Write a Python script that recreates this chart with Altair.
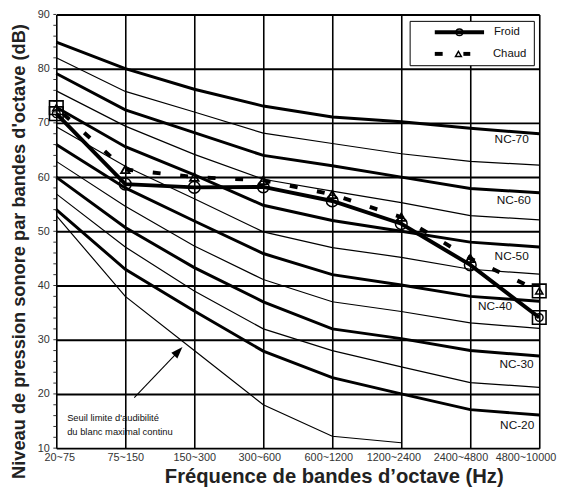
import altair as alt
import pandas as pd

# ---------------- data ----------------
bands = ["20~75", "75~150", "150~300", "300~600", "600~1200",
         "1200~2400", "2400~4800", "4800~10000"]

nc70 = [84.9, 80.0, 76.2, 73.1, 71.1, 70.2, 69.0, 68.0]
nc65 = [82.0, 75.8, 72.0, 68.1, 66.2, 64.3, 62.9, 62.2]
nc60 = [79.1, 72.4, 68.2, 64.0, 62.1, 60.0, 57.9, 57.1]
nc55 = [75.9, 69.4, 64.2, 59.6, 57.4, 55.3, 52.9, 52.1]
nc50 = [72.9, 65.6, 60.4, 54.8, 52.0, 50.0, 48.0, 47.1]
nc45 = [69.3, 62.0, 56.0, 49.9, 47.0, 45.2, 43.0, 42.1]
nc40 = [66.0, 58.0, 51.9, 45.9, 42.0, 40.1, 38.0, 37.1]
nc35 = [62.9, 54.6, 47.3, 41.1, 37.0, 35.2, 33.1, 32.1]
nc30 = [60.0, 50.7, 43.3, 37.0, 32.0, 30.2, 28.0, 27.0]
nc25 = [56.9, 47.1, 39.0, 32.0, 28.0, 25.0, 22.1, 21.2]
nc20 = [54.0, 43.0, 35.3, 27.9, 23.0, 20.0, 17.1, 16.1]
seuil = [52.9, 38.0, 28.0, 18.0, 12.2, 11.0]

froid = [71.7, 58.7, 58.1, 58.2, 55.6, 51.4, 43.8, 34.1]
chaud = [72.8, 61.4, 60.0, 59.4, 56.8, 52.6, 45.0, 39.0]

thick_curves = {"NC-70": nc70, "NC-60": nc60, "NC-50": nc50,
                "NC-40": nc40, "NC-30": nc30, "NC-20": nc20}
thin_curves = {"NC-65": nc65, "NC-55": nc55, "NC-45": nc45,
               "NC-35": nc35, "NC-25": nc25, "Seuil": seuil}

nc_labels = ["NC-70", "NC-60", "NC-50", "NC-40", "NC-30", "NC-20"]
nc_label_x = [6.60, 6.63, 6.60, 6.36, 6.67, 6.68]
nc_label_y = [67.0, 55.8, 45.5, 36.2, 25.5, 14.2]

note_lines = ["Seuil limite d'audibilité", "du blanc maximal continu"]
note_x = [0.157, 0.157]
note_y = [15.6, 12.9]

arrow_start = (1.13, 19.3)
arrow_head = (1.77, 27.87)

y_minor = list(range(10, 91, 2))

# ---------------- tables ----------------
def long(d):
    rows = []
    for name, vals in d.items():
        for i, v in enumerate(vals):
            rows.append({"curve": name, "i": i, "v": v})
    return pd.DataFrame(rows)

df_thick = long(thick_curves)
df_thin = long(thin_curves)
df_froid = pd.DataFrame({"i": range(len(froid)), "v": froid})
df_chaud = pd.DataFrame({"i": range(len(chaud)), "v": chaud})
df_lab = pd.DataFrame({"t": nc_labels, "i": nc_label_x, "v": nc_label_y})
df_note = pd.DataFrame({"t": note_lines, "i": note_x, "v": note_y})
df_arrow = pd.DataFrame({"i": [arrow_start[0]], "v": [arrow_start[1]],
                         "i2": [arrow_head[0]], "v2": [arrow_head[1]]})
df_head = pd.DataFrame({"i": [arrow_head[0]], "v": [arrow_head[1]]})
df_minor = pd.DataFrame({"v": y_minor})
one = pd.DataFrame({"a": [0]})

label_expr = "[" + ",".join("'%s'" % b for b in bands) + "][datum.value]"
FONT = "Liberation Sans"

label_offset = {
    "condition": [
        {"test": "datum.value == 0", "value": 3},
        {"test": "datum.value == 3 || datum.value == 4", "value": -4},
        {"test": "datum.value == 5", "value": -8},
        {"test": "datum.value == 6", "value": -10},
        {"test": "datum.value == 7", "value": -14},
    ],
    "value": 0,
}

X = alt.X("i:Q", scale=alt.Scale(domain=[0, 7], nice=False),
          axis=alt.Axis(values=list(range(8)), labelExpr=label_expr,
                        title="Fréquence de bandes d’octave (Hz)",
                        ticks=False, domain=False, grid=True,
                        gridColor="black", gridWidth=1.6, gridOpacity=1,
                        labelFont=FONT, labelFontSize=11,
                        labelColor="#333", labelPadding=4, labelFlush=False,
                        labelOffset=label_offset,
                        titleFont=FONT, titleFontSize=20.5,
                        titleFontWeight="bold", titleColor="#222",
                        titleX=281.5, titleY=29, titleBaseline="middle",
                        titleAlign="center", titleAnchor="middle"))
Y = alt.Y("v:Q", scale=alt.Scale(domain=[10, 90], nice=False),
          axis=alt.Axis(values=list(range(10, 91, 10)),
                        title="Niveau de pression sonore par bandes d'octave (dB)",
                        ticks=False, domain=False, grid=True,
                        gridColor="black", gridWidth=2, gridOpacity=1,
                        labelFont=FONT, labelFontSize=11,
                        labelColor="#333", labelPadding=7,
                        titleFont=FONT, titleFontSize=18.5,
                        titleFontWeight="bold", titleColor="#222",
                        titleX=-38, titleY=240, titleAngle=-90,
                        titleBaseline="middle", titleAlign="center",
                        titleAnchor="middle"))

thick = alt.Chart(df_thick).mark_line(color="black", strokeWidth=3).encode(
    x=X, y=Y, detail="curve:N")
thin = alt.Chart(df_thin).mark_line(color="black", strokeWidth=1.2).encode(
    x="i:Q", y="v:Q", detail="curve:N")

froid_line = alt.Chart(df_froid).mark_line(color="black", strokeWidth=4).encode(
    x="i:Q", y="v:Q")
chaud_line = alt.Chart(df_chaud).mark_line(
    color="black", strokeWidth=4, strokeDash=[8, 20], strokeDashOffset=-10).encode(
    x="i:Q", y="v:Q")

froid_pts = alt.Chart(df_froid).transform_filter(
    "datum.i > 0 && datum.i < 7").mark_point(
    shape="circle", size=140, filled=False, color="black", strokeWidth=1.5,
    opacity=1).encode(x="i:Q", y="v:Q")
chaud_pts = alt.Chart(df_chaud).transform_filter(
    "datum.i > 0 && datum.i < 7").mark_point(
    shape="triangle-up", size=75, filled=False, color="black", strokeWidth=1.8,
    opacity=1).encode(x="i:Q", y="v:Q")

end_froid_sq = alt.Chart(df_froid).transform_filter(
    "datum.i == 0 || datum.i == 7").mark_point(
    shape="square", size=190, filled=False, color="black", strokeWidth=1.6,
    opacity=1).encode(x="i:Q", y="v:Q")
end_chaud_sq = alt.Chart(df_chaud).transform_filter(
    "datum.i == 0 || datum.i == 7").mark_point(
    shape="square", size=190, filled=False, color="black", strokeWidth=1.6,
    opacity=1).encode(x="i:Q", y="v:Q")
end_froid_in = alt.Chart(df_froid).transform_filter(
    "datum.i == 0 || datum.i == 7").mark_point(
    shape="circle", size=60, filled=False, color="black", strokeWidth=1.5,
    opacity=1).encode(x="i:Q", y="v:Q")
end_chaud_in = alt.Chart(df_chaud).transform_filter(
    "datum.i == 0 || datum.i == 7").mark_point(
    shape="triangle-up", size=55, filled=False, color="black", strokeWidth=1.5,
    opacity=1).encode(x="i:Q", y="v:Q")

labels = alt.Chart(df_lab).mark_text(
    font=FONT, fontSize=12, color="#111",
    align="center", baseline="middle").encode(x="i:Q", y="v:Q", text="t:N")

note = alt.Chart(df_note).mark_text(
    font=FONT, fontSize=9.5, color="#111",
    align="left", baseline="middle").encode(x="i:Q", y="v:Q", text="t:N")

arrow = alt.Chart(df_arrow).mark_rule(color="black", strokeWidth=1.1).encode(
    x="i:Q", y="v:Q", x2="i2:Q", y2="v2:Q")
head = alt.Chart(df_head).mark_point(
    shape="M0,-1L0.7,1L-0.7,1Z", size=144, filled=True, color="black",
    angle=43.5, opacity=1).encode(x="i:Q", y="v:Q")

minor = alt.Chart(df_minor).mark_rule(color="#333", strokeWidth=1).encode(
    y="v:Q", x=alt.value(-3), x2=alt.value(0))

# legend (decoration)
leg_box = alt.Chart(one).mark_rect(fill="white", stroke="black",
                                   strokeWidth=1).encode(
    x=alt.value(359), x2=alt.value(485), y=alt.value(7), y2=alt.value(52))
leg_l1 = alt.Chart(one).mark_rule(color="black", strokeWidth=4).encode(
    x=alt.value(384), x2=alt.value(434), y=alt.value(18))
leg_c1 = alt.Chart(one).mark_point(shape="circle", size=45, filled=False,
                                   color="black", strokeWidth=1.5,
                                   opacity=1).encode(
    x=alt.value(409), y=alt.value(18))
leg_d1 = alt.Chart(one).mark_rule(color="black", strokeWidth=4).encode(
    x=alt.value(384), x2=alt.value(392), y=alt.value(40))
leg_d2 = alt.Chart(one).mark_rule(color="black", strokeWidth=4).encode(
    x=alt.value(413), x2=alt.value(420), y=alt.value(40))
leg_t1 = alt.Chart(one).mark_point(shape="triangle-up", size=35, filled=False,
                                   color="black", strokeWidth=1.5,
                                   opacity=1).encode(
    x=alt.value(408), y=alt.value(40))
leg_txt1 = alt.Chart(one).mark_text(font=FONT, fontSize=11.5,
                                    align="left", baseline="middle",
                                    color="#111").encode(
    x=alt.value(444), y=alt.value(18), text=alt.value("Froid"))
leg_txt2 = alt.Chart(one).mark_text(font=FONT, fontSize=11.5,
                                    align="left", baseline="middle",
                                    color="#111").encode(
    x=alt.value(443), y=alt.value(40), text=alt.value("Chaud"))

chart = alt.layer(
    thick, thin, minor, arrow, head, note, labels,
    chaud_line, froid_line, froid_pts, chaud_pts,
    end_froid_sq, end_chaud_sq, end_froid_in, end_chaud_in,
    leg_box, leg_l1, leg_c1, leg_d1, leg_d2, leg_t1, leg_txt1, leg_txt2
).properties(
    width=490, height=440,
    autosize=alt.AutoSizeParams(type="none"),
    padding={"left": 49, "top": 3, "right": 18, "bottom": 45},
).configure_view(stroke="black", strokeWidth=2).configure(background="white")

chart.save("out.html", embed_options={"renderer": "svg", "actions": False})
